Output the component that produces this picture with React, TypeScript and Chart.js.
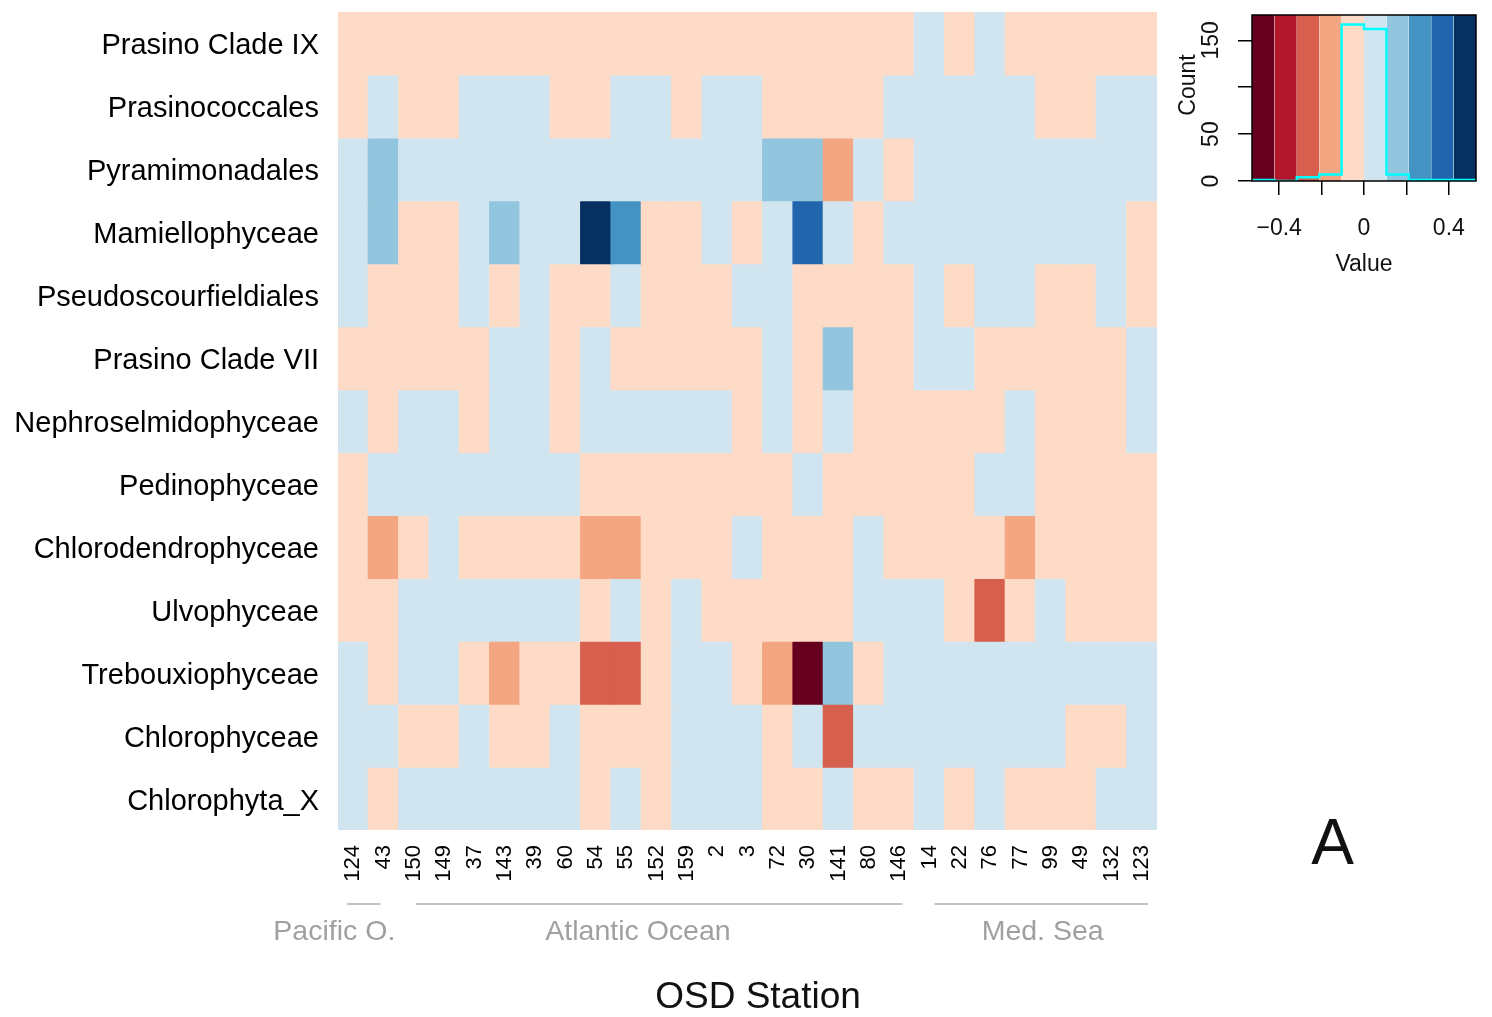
import React, { useEffect, useRef } from 'react';
import { Chart, registerables } from 'chart.js';

Chart.register(...registerables);

const FONT = '"Liberation Sans", Arial, Helvetica, sans-serif';

// ---------- data ----------
const stations = ['124', '43', '150', '149', '37', '143', '39', '60', '54', '55', '152', '159', '2', '3', '72', '30', '141', '80', '146', '14', '22', '76', '77', '99', '49', '132', '123'];

const taxa = ['Prasino Clade IX', 'Prasinococcales', 'Pyramimonadales', 'Mamiellophyceae', 'Pseudoscourfieldiales', 'Prasino Clade VII', 'Nephroselmidophyceae', 'Pedinophyceae', 'Chlorodendrophyceae', 'Ulvophyceae', 'Trebouxiophyceae', 'Chlorophyceae', 'Chlorophyta_X'];

const prasinoCladeIX = [-0.05, -0.05, -0.05, -0.05, -0.05, -0.05, -0.05, -0.05, -0.05, -0.05, -0.05, -0.05, -0.05, -0.05, -0.05, -0.05, -0.05, -0.05, -0.05, 0.05, -0.05, 0.05, -0.05, -0.05, -0.05, -0.05, -0.05];
const prasinococcales = [-0.05, 0.05, -0.05, -0.05, 0.05, 0.05, 0.05, -0.05, -0.05, 0.05, 0.05, -0.05, 0.05, 0.05, -0.05, -0.05, -0.05, -0.05, 0.05, 0.05, 0.05, 0.05, 0.05, -0.05, -0.05, 0.05, 0.05];
const pyramimonadales = [0.05, 0.15, 0.05, 0.05, 0.05, 0.05, 0.05, 0.05, 0.05, 0.05, 0.05, 0.05, 0.05, 0.05, 0.15, 0.15, -0.15, 0.05, -0.05, 0.05, 0.05, 0.05, 0.05, 0.05, 0.05, 0.05, 0.05];
const mamiellophyceae = [0.05, 0.15, -0.05, -0.05, 0.05, 0.15, 0.05, 0.05, 0.47, 0.25, -0.05, -0.05, 0.05, -0.05, 0.05, 0.35, 0.05, -0.05, 0.05, 0.05, 0.05, 0.05, 0.05, 0.05, 0.05, 0.05, -0.05];
const pseudoscourfieldiales = [0.05, -0.05, -0.05, -0.05, 0.05, -0.05, 0.05, -0.05, -0.05, 0.05, -0.05, -0.05, -0.05, 0.05, 0.05, -0.05, -0.05, -0.05, -0.05, 0.05, -0.05, 0.05, 0.05, -0.05, -0.05, 0.05, -0.05];
const prasinoCladeVII = [-0.05, -0.05, -0.05, -0.05, -0.05, 0.05, 0.05, -0.05, 0.05, -0.05, -0.05, -0.05, -0.05, -0.05, 0.05, -0.05, 0.15, -0.05, -0.05, 0.05, 0.05, -0.05, -0.05, -0.05, -0.05, -0.05, 0.05];
const nephroselmidophyceae = [0.05, -0.05, 0.05, 0.05, -0.05, 0.05, 0.05, -0.05, 0.05, 0.05, 0.05, 0.05, 0.05, -0.05, 0.05, -0.05, 0.05, -0.05, -0.05, -0.05, -0.05, -0.05, 0.05, -0.05, -0.05, -0.05, 0.05];
const pedinophyceae = [-0.05, 0.05, 0.05, 0.05, 0.05, 0.05, 0.05, 0.05, -0.05, -0.05, -0.05, -0.05, -0.05, -0.05, -0.05, 0.05, -0.05, -0.05, -0.05, -0.05, -0.05, 0.05, 0.05, -0.05, -0.05, -0.05, -0.05];
const chlorodendrophyceae = [-0.05, -0.15, -0.05, 0.05, -0.05, -0.05, -0.05, -0.05, -0.15, -0.15, -0.05, -0.05, -0.05, 0.05, -0.05, -0.05, -0.05, 0.05, -0.05, -0.05, -0.05, -0.05, -0.15, -0.05, -0.05, -0.05, -0.05];
const ulvophyceae = [-0.05, -0.05, 0.05, 0.05, 0.05, 0.05, 0.05, 0.05, -0.05, 0.05, -0.05, 0.05, -0.05, -0.05, -0.05, -0.05, -0.05, 0.05, 0.05, 0.05, -0.05, -0.26, -0.05, 0.05, -0.05, -0.05, -0.05];
const trebouxiophyceae = [0.05, -0.05, 0.05, 0.05, -0.05, -0.15, -0.05, -0.05, -0.26, -0.26, -0.05, 0.05, 0.05, -0.05, -0.15, -0.48, 0.15, -0.05, 0.05, 0.05, 0.05, 0.05, 0.05, 0.05, 0.05, 0.05, 0.05];
const chlorophyceae = [0.05, 0.05, -0.05, -0.05, 0.05, -0.05, -0.05, 0.05, -0.05, -0.05, -0.05, 0.05, 0.05, 0.05, -0.05, 0.05, -0.26, 0.05, 0.05, 0.05, 0.05, 0.05, 0.05, 0.05, -0.05, -0.05, 0.05];
const chlorophytaX = [0.05, -0.05, 0.05, 0.05, 0.05, 0.05, 0.05, 0.05, -0.05, 0.05, -0.05, 0.05, 0.05, 0.05, -0.05, -0.05, 0.05, -0.05, -0.05, 0.05, -0.05, 0.05, -0.05, -0.05, -0.05, 0.05, 0.05];

const cellRows = [prasinoCladeIX, prasinococcales, pyramimonadales, mamiellophyceae, pseudoscourfieldiales, prasinoCladeVII, nephroselmidophyceae, pedinophyceae, chlorodendrophyceae, ulvophyceae, trebouxiophyceae, chlorophyceae, chlorophytaX];

// colour key
const keyBreaks = [-0.528, -0.4224, -0.3168, -0.2112, -0.1056, 0, 0.1056, 0.2112, 0.3168, 0.4224, 0.528];
const palette = ['#67001F', '#B2182B', '#D6604D', '#F4A582', '#FDDBC7', '#D1E5F0', '#92C5DE', '#4393C3', '#2166AC', '#053061'];
const histCounts = [1, 0, 4, 7, 167, 162, 7, 1, 1, 1];
const keyXTicks = [-0.4, -0.2, 0, 0.2, 0.4];
const keyXLabels = [-0.4, 0, 0.4];
const keyYTicks = [0, 50, 100, 150];
const keyYLabels = [0, 50, 150];
const keyYMax = 177;

const regions = [
  { name: 'Pacific O.', first: 0, last: 1 },
  { name: 'Atlantic Ocean', first: 2, last: 18 },
  { name: 'Med. Sea', first: 19, last: 26 },
];

// annotation layout (pixels)
const REGION_LINE_PAD = [[-6, -3], [2, 3], [5, 6]];
const REGION_LABEL_SHIFT = [-29.5, -21, 1.5];

function colorFor(v: number): string {
  for (let i = 0; i < palette.length; i++) {
    if (v >= keyBreaks[i] && v < keyBreaks[i + 1]) return palette[i];
  }
  return v < 0 ? palette[0] : palette[palette.length - 1];
}

function fmtKey(v: number): string {
  if (v === 0) return '0';
  const s = Math.abs(v).toFixed(1);
  return v < 0 ? '\u2212' + s : s;
}

export default function App() {
  const mainRef = useRef<HTMLCanvasElement>(null);
  const keyRef = useRef<HTMLCanvasElement>(null);

  useEffect(() => {
    if (!mainRef.current || !keyRef.current) return;

    const datasets: any[] = cellRows.map((vals, r) => ({
      type: 'bar',
      label: taxa[r],
      data: vals.map(() => [r, r + 1]),
      backgroundColor: vals.map(colorFor),
      borderWidth: 0,
      grouped: false,
      barPercentage: 1,
      categoryPercentage: 1,
      inflateAmount: 0.6,
    }));

    const annotPlugin = {
      id: 'annot',
      afterDraw(chart: any) {
        const { ctx, chartArea, scales } = chart;
        const x = scales.x;
        const bottom = chartArea.bottom;
        ctx.save();
        regions.forEach((rg, i) => {
          const x1 = x.getPixelForValue(rg.first) + REGION_LINE_PAD[i][0];
          const x2 = x.getPixelForValue(rg.last) + REGION_LINE_PAD[i][1];
          ctx.strokeStyle = '#AEAEAE';
          ctx.lineWidth = 1.5;
          ctx.beginPath();
          ctx.moveTo(x1, bottom + 74);
          ctx.lineTo(x2, bottom + 74);
          ctx.stroke();
          ctx.fillStyle = '#A0A0A0';
          ctx.font = `28.5px ${FONT}`;
          ctx.textAlign = 'center';
          ctx.textBaseline = 'alphabetic';
          ctx.fillText(rg.name, (x1 + x2) / 2 + REGION_LABEL_SHIFT[i], bottom + 110);
        });
        ctx.fillStyle = '#111';
        ctx.font = `37px ${FONT}`;
        ctx.textAlign = 'center';
        ctx.fillText('OSD Station', (chartArea.left + chartArea.right) / 2 + 10.5, bottom + 178);
        ctx.font = `64px ${FONT}`;
        ctx.fillText('A', chartArea.right + 175.5, bottom + 34);
        ctx.restore();
      },
    };

    const main = new Chart(mainRef.current, {
      type: 'bar',
      data: { labels: stations, datasets },
      options: {
        responsive: false,
        animation: false,
        devicePixelRatio: 1,
        layout: { padding: { left: 0, top: 12, right: 335, bottom: 0 } },
        plugins: { legend: { display: false }, tooltip: { enabled: false } },
        scales: {
          x: {
            type: 'category',
            offset: true,
            grid: { display: false },
            border: { display: false },
            ticks: {
              minRotation: 90,
              maxRotation: 90,
              autoSkip: false,
              padding: 7,
              color: '#000',
              font: { family: FONT, size: 22 },
            },
            afterFit: (s: any) => { s.height = 187; s.paddingLeft = 0; s.paddingRight = 0; },
          },
          y: {
            type: 'linear',
            min: 0,
            max: taxa.length,
            reverse: true,
            grid: { display: false },
            border: { display: false },
            afterBuildTicks: (s: any) => { s.ticks = taxa.map((_, i) => ({ value: i + 0.5 })); },
            afterFit: (s: any) => { s.width = 338; s.paddingTop = 0; s.paddingBottom = 0; },
            ticks: {
              autoSkip: false,
              padding: 11,
              labelOffset: 3,
              color: '#000',
              font: { family: FONT, size: 29 },
              callback: (v: any) => taxa[Math.floor(Number(v))],
            },
          },
        },
      },
      plugins: [annotPlugin],
    } as any);

    const bandSets: any[] = palette.map((c, i) => ({
      type: 'line',
      data: [{ x: keyBreaks[i], y: keyYMax }, { x: keyBreaks[i + 1], y: keyYMax }],
      fill: 'origin',
      backgroundColor: c,
      borderColor: c,
      borderWidth: 0,
      pointRadius: 0,
      order: 1,
    }));
    const histSet: any = {
      type: 'line',
      data: histCounts.map((c, i) => ({ x: keyBreaks[i], y: c })).concat([{ x: keyBreaks[keyBreaks.length - 1], y: histCounts[histCounts.length - 1] }]),
      stepped: true,
      borderColor: '#00FFFF',
      borderWidth: 2.5,
      pointRadius: 0,
      fill: false,
      order: 0,
    };

    const keyPlugin = {
      id: 'keyText',
      afterDraw(chart: any) {
        const { ctx, chartArea, scales } = chart;
        const { x, y } = scales;
        ctx.save();
        ctx.strokeStyle = '#000';
        ctx.lineWidth = 1.5;
        ctx.strokeRect(chartArea.left, chartArea.top, chartArea.right - chartArea.left, chartArea.bottom - chartArea.top);
        ctx.fillStyle = '#111';
        ctx.font = `23px ${FONT}`;
        ctx.textBaseline = 'alphabetic';
        ctx.textAlign = 'center';
        keyXLabels.forEach((v) => {
          ctx.fillText(fmtKey(v), x.getPixelForValue(v), chartArea.bottom + 54);
        });
        ctx.fillText('Value', x.getPixelForValue(0), chartArea.bottom + 90);
        keyYLabels.forEach((v) => {
          ctx.save();
          ctx.translate(chartArea.left - 34, y.getPixelForValue(v));
          ctx.rotate(-Math.PI / 2);
          ctx.fillText(String(v), 0, 0);
          ctx.restore();
        });
        ctx.save();
        ctx.translate(chartArea.left - 57, chartArea.top + 70);
        ctx.rotate(-Math.PI / 2);
        ctx.fillText('Count', 0, 0);
        ctx.restore();
        ctx.restore();
      },
    };

    const tickGrid = { display: true, drawOnChartArea: false, drawTicks: true, tickLength: 14, color: '#000', lineWidth: 1.5 };

    const key = new Chart(keyRef.current, {
      type: 'line',
      data: { datasets: [histSet, ...bandSets] },
      options: {
        responsive: false,
        animation: false,
        devicePixelRatio: 1,
        layout: { padding: { left: 0, top: 15, right: 16, bottom: 0 } },
        plugins: { legend: { display: false }, tooltip: { enabled: false } },
        scales: {
          x: {
            type: 'linear',
            min: keyBreaks[0],
            max: keyBreaks[keyBreaks.length - 1],
            grid: tickGrid,
            border: { display: false },
            ticks: { display: false },
            afterBuildTicks: (s: any) => { s.ticks = keyXTicks.map((v) => ({ value: v })); },
            afterFit: (s: any) => { s.height = 109; },
          },
          y: {
            type: 'linear',
            min: 0,
            max: keyYMax,
            grid: tickGrid,
            border: { display: false },
            ticks: { display: false },
            afterBuildTicks: (s: any) => { s.ticks = keyYTicks.map((v) => ({ value: v })); },
            afterFit: (s: any) => { s.width = 92; },
          },
        },
      },
      plugins: [keyPlugin],
    } as any);

    return () => {
      main.destroy();
      key.destroy();
    };
  }, []);

  return (
    <div style={{ position: 'fixed', left: 0, top: 0, width: 1492, height: 1017, background: '#fff' }}>
      <canvas ref={mainRef} width={1492} height={1017} style={{ position: 'absolute', left: 0, top: 0 }} />
      <canvas ref={keyRef} width={332} height={290} style={{ position: 'absolute', left: 1160, top: 0 }} />
    </div>
  );
}
